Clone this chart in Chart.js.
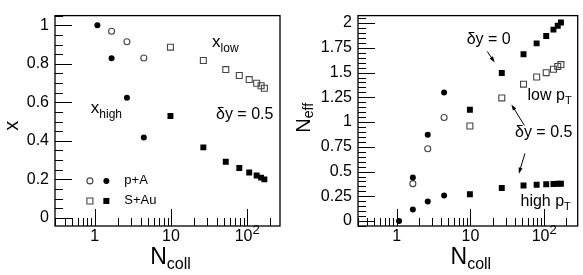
<!DOCTYPE html>
<html>
<head>
<meta charset="utf-8">
<script src="https://cdn.jsdelivr.net/npm/chart.js@4.4.0/dist/chart.umd.min.js"></script>
<style>
  body { margin: 0; background: #fff; }
  canvas { position: absolute; top: 0; }
  #left { left: 0; }
  #right { left: 290px; }
</style>
</head>
<body>
<canvas id="left" width="290" height="275"></canvas>
<canvas id="right" width="293" height="275"></canvas>
<script>
// N_coll values
const pANcollAll = [1.08, 1.66, 2.64, 4.4];
const pANcoll = [1.66, 2.64, 4.4];
const sAuNcoll = [9.84, 26.6, 52.4, 78.9, 106.4, 133.3, 152.4, 168.3];

// left panel: x_low / x_high
const xLowPA = [0.969, 0.914, 0.83];
const xHighPA = [1.0, 0.828, 0.623, 0.417];
const xLowSAu = [0.886, 0.817, 0.77, 0.739, 0.718, 0.699, 0.686, 0.673];
const xHighSAu = [0.529, 0.366, 0.291, 0.259, 0.236, 0.22, 0.209, 0.2];

// right panel: N_eff
const neffHighPA = [0.0, 0.117, 0.198, 0.259];
const neffLowPA0 = [0.441, 0.873, 1.298];
const neffLowPA05 = [0.378, 0.731, 1.046];
const neffLowSAu0 = [1.124, 1.496, 1.685, 1.795, 1.87, 1.934, 1.974, 2.006];
const neffLowSAu05 = [0.96, 1.244, 1.383, 1.455, 1.499, 1.534, 1.562, 1.581];
const neffHighSAu = [0.271, 0.334, 0.359, 0.366, 0.372, 0.375, 0.376, 0.377];

// tick labels
const xTicks = [1, 10, 100];
const xTickLabels = [['1', ''], ['10', ''], ['10', '2']];
const xLeftTicks = [0, 0.2, 0.4, 0.6, 0.8, 1];
const xLeftLabels = ['0', '0.2', '0.4', '0.6', '0.8', '1'];
const neffTicks = [0, 0.25, 0.5, 0.75, 1, 1.25, 1.5, 1.75, 2];
const neffLabels = ['0', '0.25', '0.5', '0.75', '1', '1.25', '1.5', '1.75', '2'];

const FONT = '"Liberation Sans", Arial, Helvetica, sans-serif';

function pts(xs, ys) {
    return xs.map((x, i) => ({ x: x, y: ys[i] }));
}

function series(xs, ys, style, filled) {
    return {
        data: pts(xs, ys),
        pointStyle: style,
        pointRadius: style === 'rect' ? 4.2 : 3,
        pointHoverRadius: style === 'rect' ? 4.2 : 3,
        backgroundColor: filled ? '#000' : 'rgba(0,0,0,0)',
        borderColor: filled ? '#000' : '#444',
        borderWidth: filled ? 0 : 1.1,
        showLine: false
    };
}

// draws text made of pieces: [text, size, baselineShift]
function richWidth(ctx, parts) {
    let w = 0;
    parts.forEach(p => {
        ctx.font = p[1] + 'px ' + FONT;
        w += ctx.measureText(p[0]).width;
    });
    return w;
}

function drawRich(ctx, x, y, parts) {
    let cx = x;
    parts.forEach(p => {
        ctx.font = p[1] + 'px ' + FONT;
        ctx.fillText(p[0], cx, y + (p[2] || 0));
        cx += ctx.measureText(p[0]).width;
    });
}

function drawArrow(ctx, x1, y1, x2, y2) {
    const ang = Math.atan2(y2 - y1, x2 - x1);
    ctx.beginPath();
    ctx.moveTo(x1, y1);
    ctx.lineTo(x2 - 3 * Math.cos(ang), y2 - 3 * Math.sin(ang));
    ctx.stroke();
    ctx.beginPath();
    ctx.moveTo(x2, y2);
    ctx.lineTo(x2 - 6 * Math.cos(ang) + 2 * Math.sin(ang), y2 - 6 * Math.sin(ang) - 2 * Math.cos(ang));
    ctx.lineTo(x2 - 6 * Math.cos(ang) - 2 * Math.sin(ang), y2 - 6 * Math.sin(ang) + 2 * Math.cos(ang));
    ctx.closePath();
    ctx.fill();
}

function marker(ctx, px, py, style, filled) {
    ctx.beginPath();
    if (style === 'circle') ctx.arc(px, py, 3, 0, Math.PI * 2);
    else ctx.rect(px - 3, py - 3, 6, 6);
    if (filled) { ctx.fillStyle = '#000'; ctx.fill(); }
    else { ctx.strokeStyle = '#444'; ctx.lineWidth = 1.1; ctx.stroke(); }
}

// frame, inward ticks, x labels, titles and annotations
const decor = {
    id: 'decor',
    afterDraw(chart, args, opts) {
        const { ctx, chartArea: a, scales: { x, y } } = chart;
        ctx.save();
        ctx.strokeStyle = '#000';
        ctx.fillStyle = '#000';
        ctx.lineWidth = 1;

        // x ticks (log)
        for (let d = -1; d <= 2; d++) {
            for (let m = 1; m <= 9; m++) {
                const v = m * Math.pow(10, d);
                if (v < x.min || v > x.max) continue;
                const px = Math.round(x.getPixelForValue(v)) + 0.5;
                const len = m === 1 ? 17 : 8;
                ctx.beginPath();
                ctx.moveTo(px, a.bottom);
                ctx.lineTo(px, a.bottom - len);
                ctx.stroke();
            }
        }
        // y ticks
        const step = 0.05;
        for (let k = Math.ceil(y.min / step); k * step <= y.max + 1e-9; k++) {
            const v = k * step;
            const r = v / opts.majorStep;
            const major = Math.abs(r - Math.round(r)) < 1e-6;
            const py = Math.round(y.getPixelForValue(v)) + 0.5;
            ctx.beginPath();
            ctx.moveTo(a.left, py);
            ctx.lineTo(a.left + (major ? 17 : 8), py);
            ctx.stroke();
        }

        // frame
        ctx.lineWidth = 1.3;
        ctx.strokeRect(a.left, a.top, a.right - a.left, a.bottom - a.top);

        // x tick labels
        ctx.textBaseline = 'alphabetic';
        ctx.textAlign = 'left';
        xTicks.forEach((v, i) => {
            const lab = xTickLabels[i];
            const parts = [[lab[0], 16, 0]];
            if (lab[1]) parts.push([lab[1], 13, -7]);
            const w = richWidth(ctx, parts);
            drawRich(ctx, x.getPixelForValue(v) - w / 2, a.bottom + 15, parts);
        });

        // x title
        const xt = [['N', 23, 0], ['coll', 16, 5]];
        const xw = richWidth(ctx, xt);
        drawRich(ctx, (a.left + a.right) / 2 + 3 - xw / 2, a.bottom + 38, xt);

        // y title (rotated)
        const yt = opts.yTitle;
        const yw = richWidth(ctx, yt);
        ctx.save();
        ctx.translate(a.left - opts.yTitleOffset, (a.top + a.bottom) / 2 + opts.yTitleShift);
        ctx.rotate(-Math.PI / 2);
        drawRich(ctx, -yw / 2, 0, yt);
        ctx.restore();

        // text annotations in data coordinates
        opts.texts.forEach(t => {
            drawRich(ctx, x.getPixelForValue(t.x), y.getPixelForValue(t.y), t.parts);
        });
        // arrows
        ctx.lineWidth = 1;
        opts.arrows.forEach(ar => {
            drawArrow(ctx, x.getPixelForValue(ar[0]), y.getPixelForValue(ar[1]),
                x.getPixelForValue(ar[2]), y.getPixelForValue(ar[3]));
        });
        // legend markers
        opts.markers.forEach(m => {
            marker(ctx, x.getPixelForValue(m.x), y.getPixelForValue(m.y), m.style, m.filled);
        });
        ctx.restore();
    }
};

function makeChart(id, datasets, cfg) {
    return new Chart(document.getElementById(id), {
        type: 'scatter',
        data: { datasets: datasets },
        plugins: [decor],
        options: {
            responsive: false,
            devicePixelRatio: 1,
            animation: false,
            events: [],
            layout: { padding: { left: 0, right: cfg.padRight, top: 1, bottom: 0 } },
            plugins: {
                legend: { display: false },
                tooltip: { enabled: false },
                decor: cfg.decor
            },
            scales: {
                x: {
                    type: 'logarithmic',
                    min: cfg.xMin,
                    max: cfg.xMax,
                    grid: { display: false, drawTicks: false },
                    border: { display: false },
                    ticks: { display: false },
                    afterFit: s => { s.height = 49; }
                },
                y: {
                    type: 'linear',
                    min: cfg.yMin,
                    max: cfg.yMax,
                    grid: { display: false, drawTicks: false },
                    border: { display: false },
                    ticks: {
                        padding: 6,
                        color: '#000',
                        font: { family: FONT, size: 16 },
                        callback: (v) => {
                            const i = cfg.yTicks.findIndex(t => Math.abs(t - v) < 1e-9);
                            return i >= 0 ? cfg.yLabels[i] : '';
                        }
                    },
                    afterBuildTicks: s => { s.ticks = cfg.yTicks.map(v => ({ value: v })); },
                    afterFit: s => { s.width = cfg.yWidth; }
                }
            }
        }
    });
}

makeChart('left', [
    series(pANcoll, xLowPA, 'circle', false),
    series(pANcollAll, xHighPA, 'circle', true),
    series(sAuNcoll, xLowSAu, 'rect', false),
    series(sAuNcoll, xHighSAu, 'rect', true)
], {
    padRight: 10, yWidth: 55,
    xMin: 0.342, xMax: 270, yMin: -0.042, yMax: 1.05,
    yTicks: xLeftTicks, yLabels: xLeftLabels,
    decor: {
        majorStep: 0.2,
        yTitle: [['x', 20, 0]],
        yTitleOffset: 37, yTitleShift: 5,
        texts: [
            { x: 34.6, y: 0.885, parts: [['x', 17, 0], ['low', 12, 5]] },
            { x: 0.887, y: 0.545, parts: [['x', 17, 0], ['high', 12, 5]] },
            { x: 39, y: 0.511, parts: [['\u03b4y = 0.5', 16, 0]] },
            { x: 2.44, y: 0.176, parts: [['p+A', 13, 0]] },
            { x: 2.44, y: 0.072, parts: [['S+Au', 13, 0]] }
        ],
        arrows: [],
        markers: [
            { x: 0.862, y: 0.192, style: 'circle', filled: false },
            { x: 1.417, y: 0.192, style: 'circle', filled: true },
            { x: 0.862, y: 0.088, style: 'rect', filled: false },
            { x: 1.417, y: 0.088, style: 'rect', filled: true }
        ]
    }
});

makeChart('right', [
    series(pANcollAll, neffHighPA, 'circle', true),
    series(pANcoll, neffLowPA0, 'circle', true),
    series(pANcoll, neffLowPA05, 'circle', false),
    series(sAuNcoll, neffLowSAu0, 'rect', true),
    series(sAuNcoll, neffLowSAu05, 'rect', false),
    series(sAuNcoll, neffHighSAu, 'rect', true)
], {
    padRight: 1, yWidth: 68,
    xMin: 0.332, xMax: 284, yMin: -0.05, yMax: 2.0756,
    yTicks: neffTicks, yLabels: neffLabels,
    decor: {
        majorStep: 0.25,
        yTitle: [['N', 20, 0], ['eff', 14, 3]],
        yTitleOffset: 48, yTitleShift: -3,
        texts: [
            { x: 8.9, y: 1.785, parts: [['\u03b4y = 0', 16, 0]] },
            { x: 59.4, y: 1.218, parts: [['low p', 16, 0], ['T', 11, 4]] },
            { x: 40.2, y: 0.847, parts: [['\u03b4y = 0.5', 16, 0]] },
            { x: 47.7, y: 0.148, parts: [['high p', 16, 0], ['T', 11, 4]] }
        ],
        arrows: [
            [16.9, 1.713, 21.3, 1.603],
            [53.8, 0.967, 35.9, 1.178],
            [54.8, 0.684, 45.3, 0.479]
        ],
        markers: []
    }
});
</script>
</body>
</html>
